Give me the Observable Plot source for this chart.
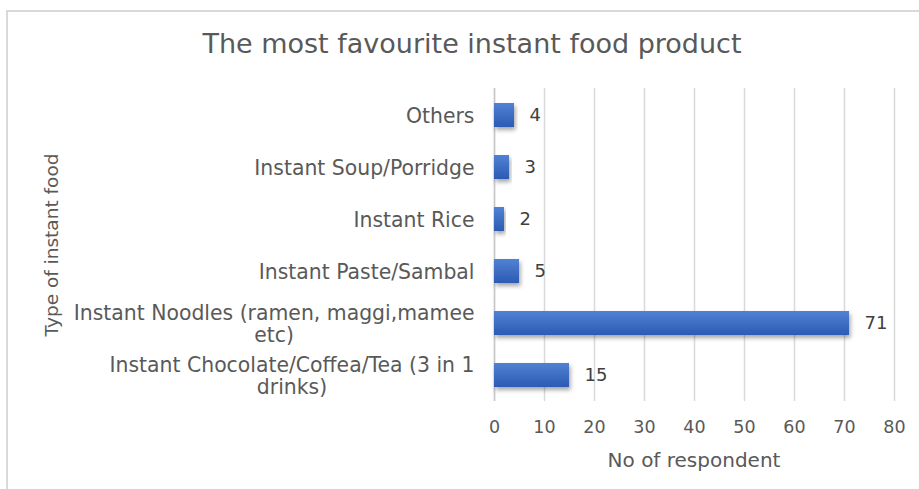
<!DOCTYPE html>
<html>
<head>
<meta charset="utf-8">
<script src="https://cdn.jsdelivr.net/npm/d3@7"></script>
<script src="https://cdn.jsdelivr.net/npm/@observablehq/plot@0.6"></script>
<style>
  html, body { margin: 0; padding: 0; background: #fff; overflow: hidden; }
  #wrap { position: relative; width: 919px; height: 489px; overflow: hidden; font-family: "DejaVu Sans", sans-serif; }
  #frame { position: absolute; left: 6px; top: 10px; width: 1000px; height: 1000px; border: 2px solid #d9d9d9; box-sizing: border-box; }
  #title { position: absolute; left: 0; top: 30px; width: 944px; text-align: center; font-size: 27px; line-height: 28px; color: #595959; white-space: nowrap; }
  #xlabel { position: absolute; left: 494px; width: 400px; top: 449px; text-align: center; font-size: 20px; line-height: 22px; color: #595959; white-space: nowrap; }
  #ylabel { position: absolute; left: -148px; top: 234px; width: 400px; text-align: center; font-size: 18.5px; line-height: 22px; color: #595959; transform: rotate(-90deg); white-space: nowrap; }
  #chart { position: absolute; left: 0; top: 0; }
</style>
</head>
<body>
<div id="wrap">
  <div id="frame"></div>
  <div id="chart"></div>
  <div id="title">The most favourite instant food product</div>
  <div id="xlabel">No of respondent</div>
  <div id="ylabel">Type of instant food</div>
</div>
<script>
const categories = [
  "Others",
  "Instant Soup/Porridge",
  "Instant Rice",
  "Instant Paste/Sambal",
  "Instant Noodles (ramen, maggi,mamee\netc)",
  "Instant Chocolate/Coffea/Tea (3 in 1\ndrinks)"
];
const respondents = [4, 3, 2, 5, 71, 15];
const xTicks = [0, 10, 20, 30, 40, 50, 60, 70, 80];

const data = categories.map((c, i) => ({category: c, value: respondents[i]}));

const chart = Plot.plot({
  width: 919,
  height: 489,
  marginTop: 88,
  marginBottom: 88,
  marginLeft: 494,
  marginRight: 25,
  style: {fontFamily: "DejaVu Sans, sans-serif", color: "#595959", background: "transparent"},
  x: {domain: [0, 80], ticks: xTicks},
  y: {domain: categories, paddingInner: 0.54, paddingOuter: 0.27},
  marks: [
    Plot.gridX(xTicks, {stroke: "#d9d9d9", strokeOpacity: 1, strokeWidth: 1.5}),
    Plot.ruleX([0], {stroke: "#c8c8c8", strokeWidth: 1.5}),
    Plot.barX(data, {x: "value", y: "category", fill: "url(#barGrad)"}),
    Plot.text(data, {x: "value", y: "category", text: d => String(d.value), textAnchor: "start", dx: 15, fontSize: 18, fill: "#404040"}),
    Plot.axisX({ticks: xTicks, tickSize: 0, tickPadding: 19, fontSize: 17.5, label: null, color: "#595959"}),
    Plot.axisY({tickSize: 0, tickPadding: 20, fontSize: 20.4, lineHeight: 1.08, label: null, color: "#595959"})
  ]
});

// gradient + shadow defs
const ns = "http://www.w3.org/2000/svg";
const defs = document.createElementNS(ns, "defs");
defs.innerHTML = `
  <linearGradient id="barGrad" x1="0" y1="0" x2="0" y2="1">
    <stop offset="0" stop-color="#5082d4"/>
    <stop offset="1" stop-color="#2c5ab3"/>
  </linearGradient>
  <filter id="barShadow" x="-10%" y="-30%" width="130%" height="180%">
    <feDropShadow dx="1.5" dy="3" stdDeviation="2" flood-color="#000" flood-opacity="0.35"/>
  </filter>`;
chart.insertBefore(defs, chart.firstChild);
chart.querySelectorAll("g[aria-label='bar'] rect").forEach(r => r.setAttribute("filter", "url(#barShadow)"));

document.getElementById("chart").appendChild(chart);

// center the wrapped second line of multi-line category labels under the first line
chart.querySelectorAll("g[aria-label='y-axis tick label'] text").forEach(t => {
  const spans = t.querySelectorAll("tspan");
  if (spans.length > 1) {
    const w = spans[0].getComputedTextLength();
    const x0 = +(spans[0].getAttribute("x") || 0);
    spans.forEach(s => s.setAttribute("x", x0 - w / 2));
    t.setAttribute("text-anchor", "middle");
  }
});
</script>
</body>
</html>
